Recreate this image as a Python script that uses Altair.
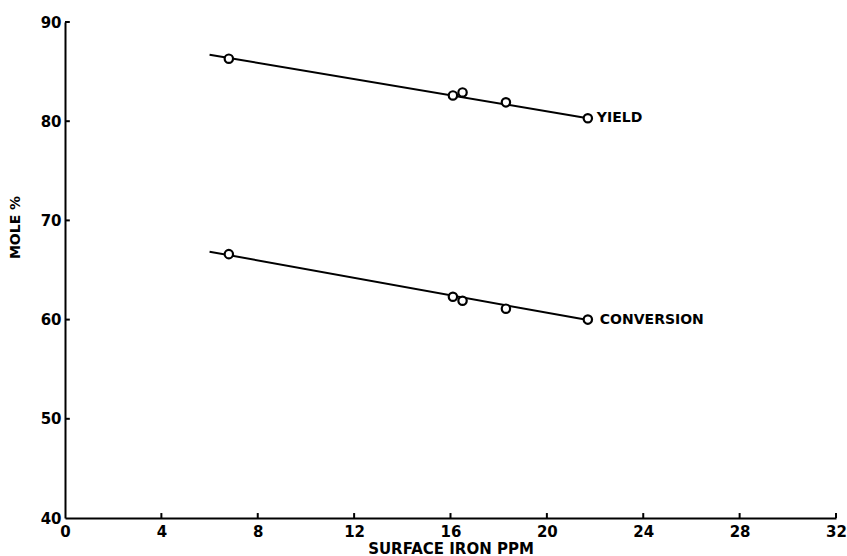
import altair as alt
import pandas as pd

# data
iron_ppm = [6.8, 16.1, 16.5, 18.3, 21.7]
yield_pct = [86.3, 82.6, 82.9, 81.9, 80.3]
conversion_pct = [66.6, 62.3, 61.9, 61.1, 60.0]
fit_x = [6.0, 21.7]
yield_fit = [86.7, 80.3]
conversion_fit = [66.85, 59.95]
x_ticks = [0, 4, 8, 12, 16, 20, 24, 28, 32]
y_ticks = [40, 50, 60, 70, 80, 90]

pts = pd.DataFrame(
    {"x": iron_ppm * 2, "y": yield_pct + conversion_pct,
     "s": ["YIELD"] * 5 + ["CONVERSION"] * 5}
)
fits = pd.DataFrame(
    {"x": fit_x * 2, "y": yield_fit + conversion_fit,
     "s": ["YIELD"] * 2 + ["CONVERSION"] * 2}
)
lab_y = pd.DataFrame({"x": [iron_ppm[-1]], "y": [yield_pct[-1]], "t": ["YIELD"]})
lab_c = pd.DataFrame({"x": [iron_ppm[-1]], "y": [conversion_pct[-1]], "t": ["CONVERSION"]})

FONT = "DejaVu Sans"

xs = alt.Scale(domain=[0, 32], nice=False)
ys = alt.Scale(domain=[40, 90], nice=False)

x_axis = alt.Axis(
    values=x_ticks, ticks=False, grid=False, domainColor="black", domainWidth=2,
    labelFont=FONT, labelFontWeight="bold", labelFontSize=15, labelColor="black",
    labelPadding=6, labelFlush=False,
    title="SURFACE IRON PPM", titleFont=FONT, titleFontWeight="bold",
    titleFontSize=15, titleColor="black", titleY=30, titleBaseline="middle",
)
y_axis = alt.Axis(
    values=y_ticks, ticks=False, grid=False, domainColor="black", domainWidth=2,
    labelFont=FONT, labelFontWeight="bold", labelFontSize=15, labelColor="black",
    labelPadding=4, labelFlush=False,
    title="MOLE %", titleFont=FONT, titleFontWeight="bold", titleFontSize=14,
    titleColor="black", titleX=-50, titleY=205, titleAngle=270,
    titleAlign="center", titleBaseline="middle",
)

lines = alt.Chart(fits).mark_line(color="black", strokeWidth=2).encode(
    x=alt.X("x:Q", scale=xs, axis=x_axis),
    y=alt.Y("y:Q", scale=ys, axis=y_axis),
    detail="s:N",
)

points = alt.Chart(pts).mark_point(
    shape="circle", filled=True, fill="white", stroke="black", strokeWidth=2.2,
    size=70, opacity=1,
).encode(x=alt.X("x:Q", scale=xs), y=alt.Y("y:Q", scale=ys))

def label(df, dx):
    return alt.Chart(df).mark_text(
        align="left", baseline="middle", font=FONT, fontWeight="bold",
        fontSize=14, color="black", dx=dx,
    ).encode(x=alt.X("x:Q", scale=xs), y=alt.Y("y:Q", scale=ys), text="t:N")

xt = pd.DataFrame({"x": x_ticks[1:], "y": [40] * 8, "y2": [40.5] * 8})
x_tick_marks = alt.Chart(xt).mark_rule(color="black", strokeWidth=2).encode(
    x=alt.X("x:Q", scale=xs), y=alt.Y("y:Q", scale=ys), y2="y2:Q"
)
yt = pd.DataFrame({"y": y_ticks[1:], "x": [0] * 5, "x2": [0.2] * 5})
y_tick_marks = alt.Chart(yt).mark_rule(color="black", strokeWidth=2).encode(
    y=alt.Y("y:Q", scale=ys), x=alt.X("x:Q", scale=xs), x2="x2:Q"
)

chart = alt.layer(
    lines, x_tick_marks, y_tick_marks, points, label(lab_y, 9), label(lab_c, 12)
).properties(
    width=771, height=496,
    autosize=alt.AutoSizeParams(type="none"),
    padding={"left": 65, "top": 22, "right": 11, "bottom": 38},
    background="white",
).configure_view(stroke=None)

chart.save("out.html", embed_options={"renderer": "svg", "actions": False})
